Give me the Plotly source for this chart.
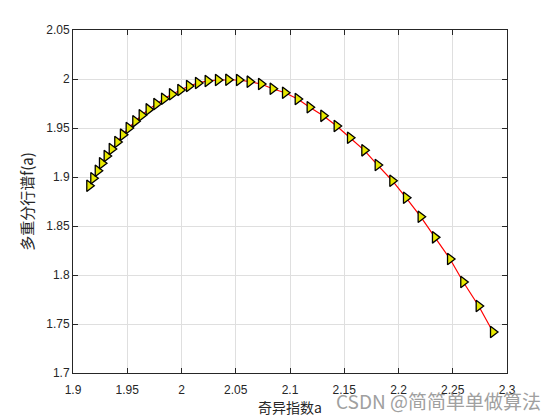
import plotly.graph_objects as go

alpha = [1.915, 1.9187, 1.9228, 1.9267, 1.931, 1.9357, 1.9408, 1.946, 1.9513, 1.9574,
         1.9633, 1.9697, 1.9768, 1.9839, 1.9912, 1.9989, 2.0069, 2.0152, 2.0241, 2.0336,
         2.0431, 2.053, 2.0628, 2.0733, 2.084, 2.0954, 2.1071, 2.1181, 2.1307, 2.143,
         2.1553, 2.1685, 2.1808, 2.1943, 2.2069, 2.2204, 2.2336, 2.2475, 2.2597, 2.2739,
         2.2871]
f_alpha = [1.891, 1.8987, 1.9064, 1.914, 1.9214, 1.9286, 1.9357, 1.9432, 1.95, 1.9568,
           1.963, 1.969, 1.9745, 1.9799, 1.9844, 1.9888, 1.9929, 1.9959, 1.998, 1.999,
           1.9993, 1.999, 1.9973, 1.9949, 1.9901, 1.986, 1.9796, 1.9711, 1.9624, 1.952,
           1.940, 1.9272, 1.9122, 1.8962, 1.8789, 1.8595, 1.8384, 1.8163, 1.7929, 1.7684,
           1.7418]

x_ticks = [1.9, 1.95, 2.0, 2.05, 2.1, 2.15, 2.2, 2.25, 2.3]
x_labels = ["1.9", "1.95", "2", "2.05", "2.1", "2.15", "2.2", "2.25", "2.3"]
y_ticks = [1.7, 1.75, 1.8, 1.85, 1.9, 1.95, 2.0, 2.05]
y_labels = ["1.7", "1.75", "1.8", "1.85", "1.9", "1.95", "2", "2.05"]

fig = go.Figure()
fig.add_trace(go.Scatter(
    x=alpha, y=f_alpha, mode="lines+markers",
    line=dict(color="#ff0000", width=1.2),
    marker=dict(symbol="triangle-right", size=10, color="#e8e800",
                line=dict(color="#000000", width=1.3)),
    showlegend=False,
))

axis_common = dict(
    showline=True, linecolor="#262626", linewidth=1, mirror="ticks",
    ticks="inside", ticklen=5, tickcolor="#262626",
    showgrid=True, gridcolor="#dfdfdf", gridwidth=1, zeroline=False,
    tickfont=dict(family="Arial, Liberation Sans, sans-serif", size=12, color="#262626"),
)

fig.update_xaxes(range=[1.9, 2.3], tickvals=x_ticks, ticktext=x_labels,
                 ticklabelstandoff=6,
                 title=dict(text="奇异指数a", standoff=2,
                            font=dict(family="Noto Sans CJK SC, sans-serif", size=14, color="#262626")),
                 **axis_common)
fig.update_yaxes(range=[1.7, 2.05], tickvals=y_ticks, ticktext=y_labels,
                 title=dict(text="多重分行谱f(a)", standoff=8,
                            font=dict(family="Noto Sans CJK SC, sans-serif", size=15, color="#262626")),
                 **axis_common)

fig.add_annotation(text="CSDN @简简单单做算法", xref="paper", yref="paper",
                   x=1.083, y=-0.08, xanchor="right", yanchor="middle", showarrow=False,
                   font=dict(family="Noto Sans CJK SC, sans-serif", size=19, color="#a0a0a0"))

fig.update_layout(
    width=552, height=412,
    margin=dict(l=65, r=53, t=22, b=47),
    paper_bgcolor="white", plot_bgcolor="white",
)

fig.write_html("out.html")
